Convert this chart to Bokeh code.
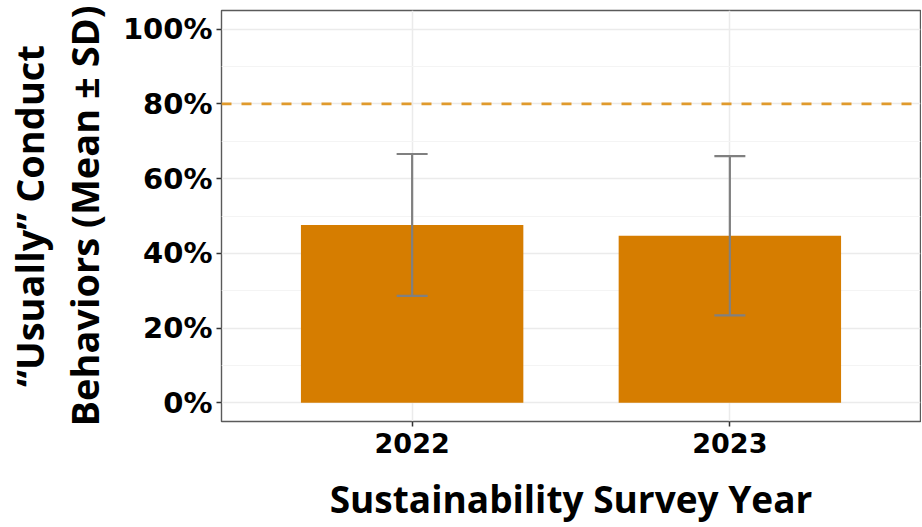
from bokeh.plotting import figure
from bokeh.models import (ColumnDataSource, Range1d, FixedTicker, Span, Whisker,
                          TeeHead, PrintfTickFormatter)
from bokeh.embed import file_html
from bokeh.resources import INLINE

# ---- data ----
years = ["2022", "2023"]
mean_pct = [47.6, 44.7]
sd_pct = [19.0, 21.3]
target_pct = 80
y_ticks = [0, 20, 40, 60, 80, 100]
y_minor = [10, 30, 50, 70, 90]

x_pos = [i + 1 for i in range(len(years))]
upper = [m + s for m, s in zip(mean_pct, sd_pct)]
lower = [m - s for m, s in zip(mean_pct, sd_pct)]
src = ColumnDataSource(dict(x=x_pos, year=years, mean=mean_pct, upper=upper, lower=lower))

FONT = "Open Sans"
TICK_FONT = "DejaVu Sans"
BAR = "#D67D00"

p = figure(width=921, height=526, output_backend="svg", toolbar_location=None,
           x_range=Range1d(0.4, len(years) + 0.6), y_range=Range1d(-5, 105),
           min_border_left=221, min_border_top=10, min_border_right=1, min_border_bottom=105)
p.background_fill_color = "white"
p.border_fill_color = "white"
p.outline_line_color = "#5A5A5A"
p.outline_line_width = 1.4

# grids
p.ygrid.ticker = FixedTicker(ticks=y_ticks, minor_ticks=y_minor)
p.ygrid.grid_line_color = "#EBEBEB"
p.ygrid.grid_line_width = 1.5
p.ygrid.minor_grid_line_color = "#F4F4F4"
p.ygrid.minor_grid_line_width = 1.2
p.xgrid.ticker = FixedTicker(ticks=x_pos)
p.xgrid.grid_line_color = "#EBEBEB"
p.xgrid.grid_line_width = 1.5

# bars
p.vbar(x="x", top="mean", bottom=0, width=0.7, source=src,
       fill_color=BAR, line_color=BAR, line_width=0)

# error bars
wh = Whisker(base="x", upper="upper", lower="lower", source=src,
             line_color="#808080", line_width=2.2,
             upper_head=TeeHead(size=31, line_color="#808080", line_width=2.2),
             lower_head=TeeHead(size=31, line_color="#808080", line_width=2.2))
wh.level = "annotation"
p.add_layout(wh)

# target line
p.add_layout(Span(location=target_pct, dimension="width", line_color="#E09A2C",
                  line_width=2.6, line_dash="10 10"))

# axes
for ax in (p.xaxis[0], p.yaxis[0]):
    ax.axis_line_color = None
    ax.major_tick_line_color = "#333333"
    ax.major_tick_line_width = 1.5
    ax.major_tick_out = 5
    ax.major_tick_in = 0
    ax.minor_tick_line_color = None
    ax.major_label_text_font = TICK_FONT
    ax.major_label_text_font_style = "bold"
    ax.major_label_text_color = "black"
    ax.axis_label_text_font = FONT
    ax.axis_label_text_font_style = "bold"
    ax.axis_label_text_font_size = "37px"
    ax.axis_label_text_color = "black"

p.xaxis.ticker = FixedTicker(ticks=x_pos)
p.xaxis.major_label_overrides = {x: y for x, y in zip(x_pos, years)}
p.xaxis.major_label_text_font_size = "27px"
p.xaxis.major_label_standoff = 6
p.xaxis.axis_label = "Sustainability Survey Year"
p.xaxis.axis_label_standoff = 17

p.yaxis.ticker = FixedTicker(ticks=y_ticks)
p.yaxis.formatter = PrintfTickFormatter(format="%d%%")
p.yaxis.major_label_text_font_size = "29px"
p.yaxis.major_label_standoff = 4
p.yaxis.axis_label = "\u201cUsually\u201d Conduct\nBehaviors (Mean \u00b1 SD)"
p.yaxis.axis_label_text_font_size = "38px"
p.yaxis.axis_label_text_line_height = 1.05
p.yaxis.axis_label_standoff = 10

open("out.html", "w").write(file_html(p, INLINE))
